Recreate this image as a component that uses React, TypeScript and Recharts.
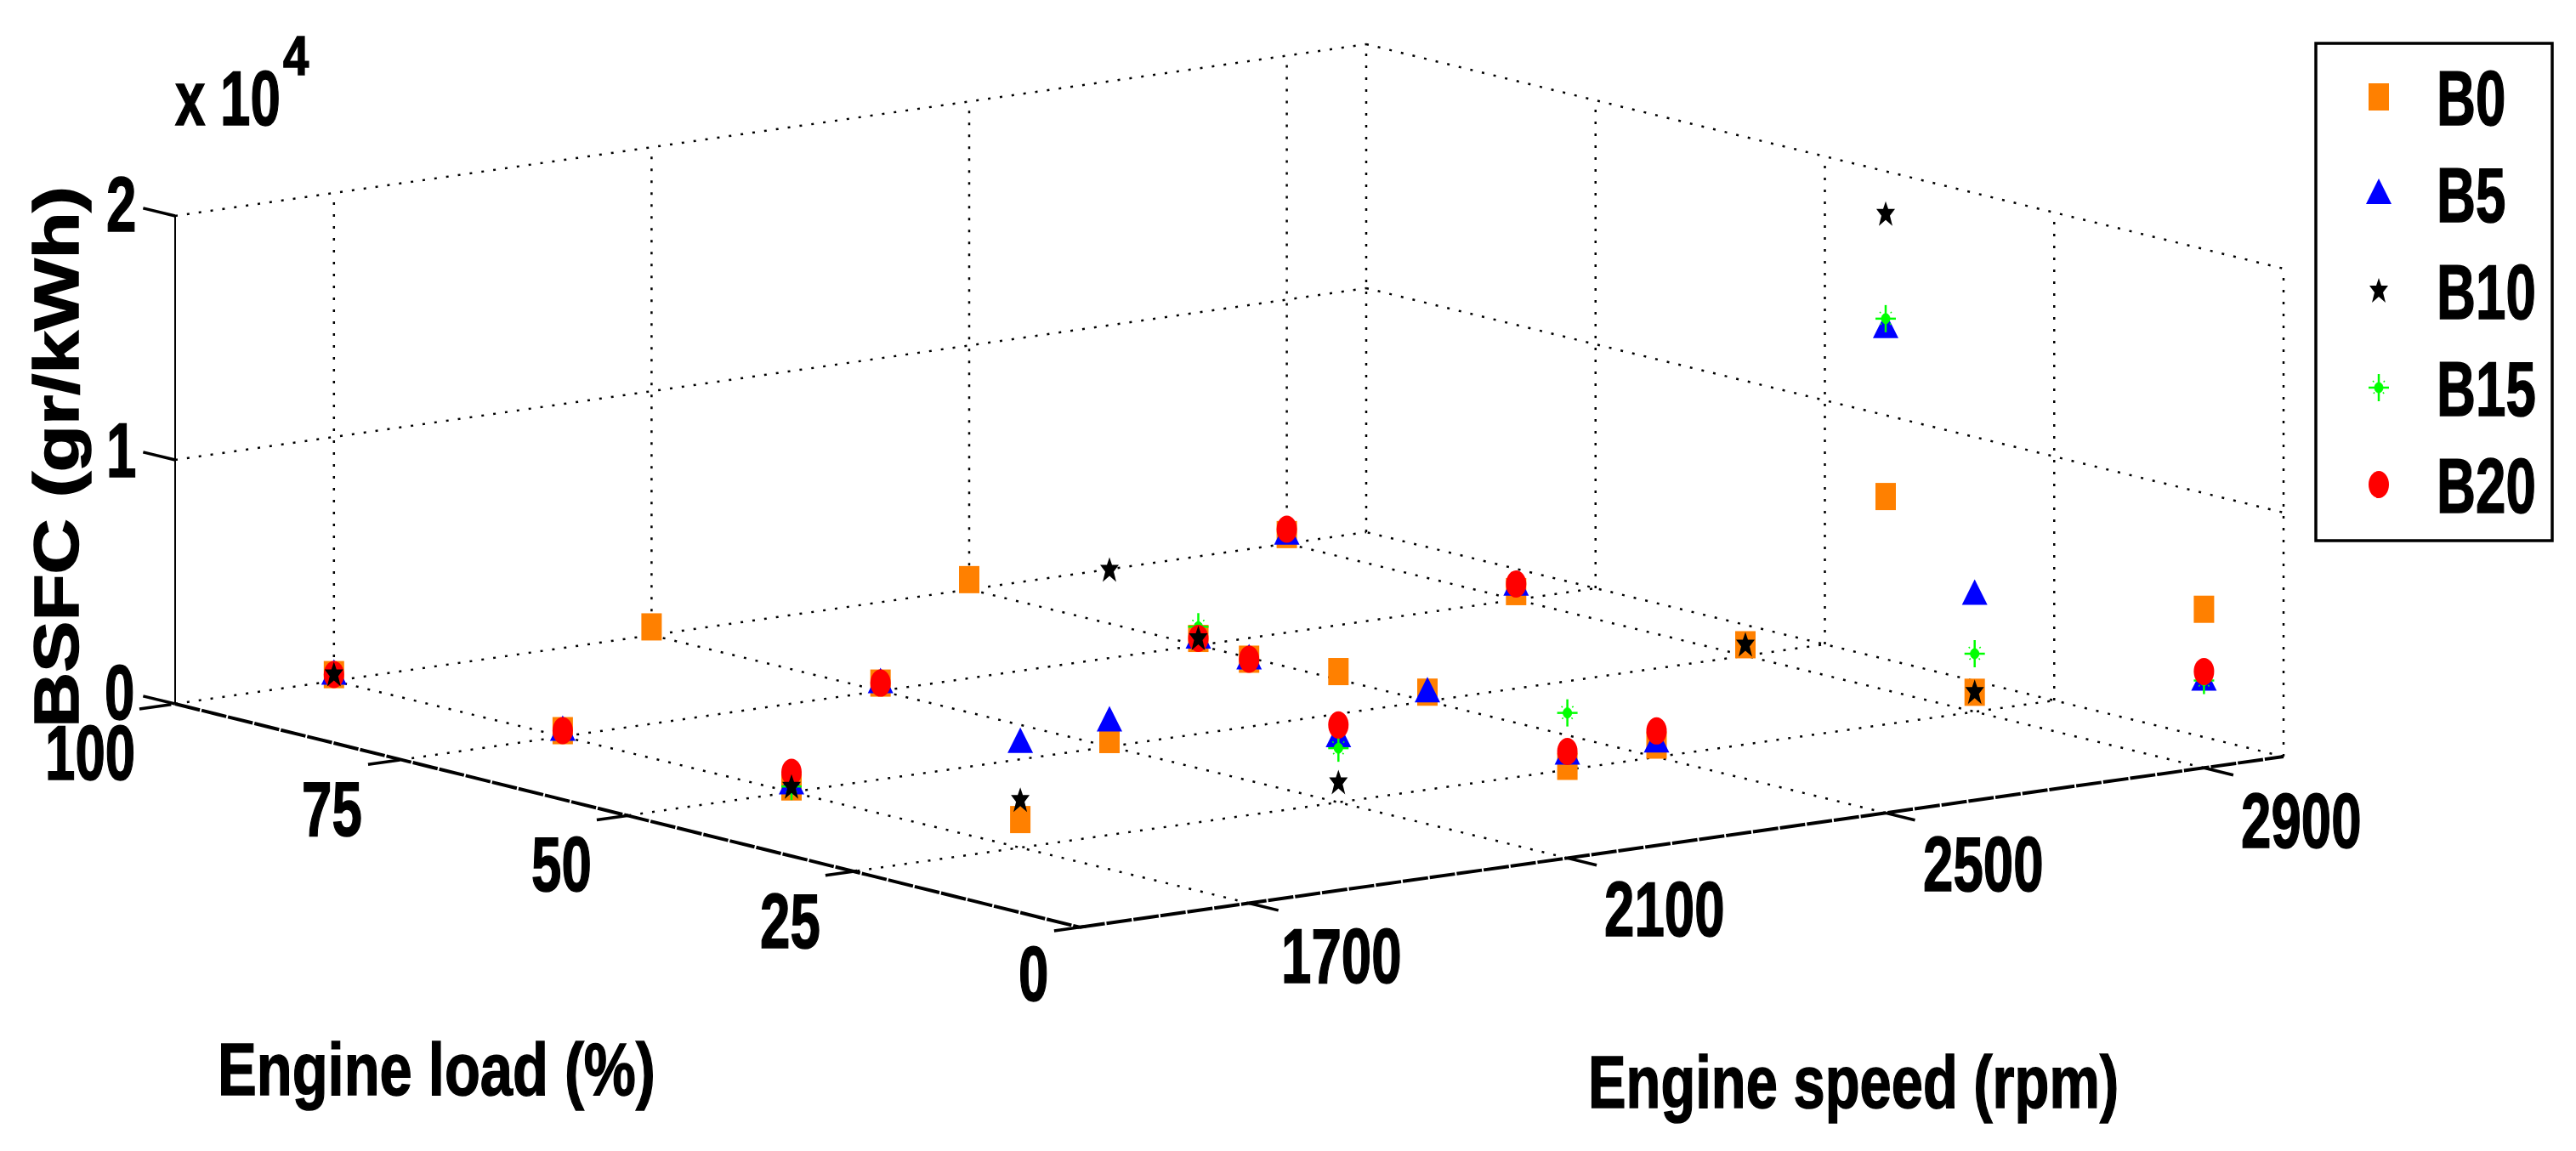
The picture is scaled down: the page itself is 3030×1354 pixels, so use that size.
import { FC } from 'react';
import { ReferenceLine, Scatter, ScatterChart, XAxis, YAxis } from 'recharts';

const speeds = [1700, 2100, 2500, 2900];
const loads = [100, 75, 50, 25, 0];
const bsfcTicks = [0, 10000, 20000];

// BSFC in gr/kWh, one row per speed, one column per load
// null where the marker cannot be seen under the others
const b0 = [
  [260, 240, 210, 1150, 10000],
  [340, 320, 290, 5360, 3760],
  [400, 280, 370, 490, 12970],
  [370, 330, 450, 800, 6500],
];
const b5 = [
  [260, 240, 320, 4300, 10000],
  [null, 320, 1040, 2680, 4250],
  [null, 280, 370, 600, 19880],
  [370, 580, null, 4800, 3580],
];
const b10 = [
  [260, null, 210, 1950, null],
  [null, null, 7240, 810, null],
  [null, 280, null, null, 24550],
  [null, null, 450, 800, null],
];
const b15 = [
  [null, null, 230, null, null],
  [null, null, null, 2220, 5950],
  [null, 760, null, null, 20260],
  [null, null, null, 2380, 3580],
];
const b20 = [
  [265, 240, 810, null, 10000],
  [null, 320, null, 3170, 4370],
  [null, 280, null, 1070, null],
  [590, 640, null, null, 3950],
];

const WIDTH = 3030;
const HEIGHT = 1354;

// the view of the box: floor corners in picture coordinates
const project = (speed: number, load: number, bsfc = 0) => {
  const u = (speed - 1500) / 1500;
  const v = load / 100;
  const fx = 1282 + 1404 * u;
  const fy = 1089 - 199 * u;
  const bx = 206 + 1401 * u;
  const by = 828 - 202 * u;
  return {
    x: fx + (bx - fx) * v,
    y: fy + (by - fy) * v - (bsfc / 10000) * 287,
  };
};

const toPoints = (rows: (number | null)[][]) =>
  rows.flatMap((row, i) =>
    row.flatMap((bsfc, j) =>
      bsfc === null ? [] : [project(speeds[i], loads[j], bsfc)],
    ),
  );

const Square: FC<any> = ({ cx, cy }) => (
  <rect x={cx - 12} y={cy - 16} width={24} height={32} fill="#ff8000" />
);
const Triangle: FC<any> = ({ cx, cy }) => (
  <polygon
    points={`${cx},${cy - 18} ${cx + 15},${cy + 12} ${cx - 15},${cy + 12}`}
    fill="#0000ff"
  />
);
const Star: FC<any> = ({ cx, cy }) => (
  <polygon
    points={`${cx},${cy - 15} ${cx + 3},${cy - 6} ${cx + 11},${cy - 6} ${cx + 5},${cy + 2} ${cx + 8},${cy + 14} ${cx},${cy + 7} ${cx - 8},${cy + 14} ${cx - 5},${cy + 2} ${cx - 11},${cy - 6} ${cx - 3},${cy - 6}`}
    fill="#000"
  />
);
const Burst: FC<any> = ({ cx, cy }) => (
  <g stroke="#00ff00" fill="#00ff00">
    <line x1={cx} y1={cy - 16} x2={cx} y2={cy + 16} strokeWidth={2.5} />
    <line x1={cx - 12} y1={cy} x2={cx + 12} y2={cy} strokeWidth={2.5} />
    <line x1={cx - 7} y1={cy - 8} x2={cx + 7} y2={cy + 8} strokeWidth={1.5} strokeDasharray="2 4" />
    <line x1={cx + 7} y1={cy - 8} x2={cx - 7} y2={cy + 8} strokeWidth={1.5} strokeDasharray="2 4" />
    <ellipse cx={cx} cy={cy} rx={5} ry={6} />
  </g>
);
const Dot: FC<any> = ({ cx, cy }) => (
  <ellipse cx={cx} cy={cy} rx={12} ry={16} fill="#ff0000" />
);

const series = [
  { name: 'B0', rows: b0, shape: Square },
  { name: 'B5', rows: b5, shape: Triangle },
  { name: 'B10', rows: b10, shape: Star },
  { name: 'B15', rows: b15, shape: Burst },
  { name: 'B20', rows: b20, shape: Dot },
];
const drawOrder = ['B0', 'B5', 'B15', 'B20', 'B10'];

const Label: FC<any> = ({ x, y, sx = 0.7, size = 91, rotate = 0, children }) => (
  <text
    transform={`translate(${x} ${y}) rotate(${rotate}) scale(${sx} 1)`}
    fontFamily="Liberation Sans"
    fontWeight="bold"
    fontSize={size}
    fill="#000"
    stroke="#000"
    strokeWidth={1.5}
  >
    {children}
  </text>
);

const dotted = (a: any, b: any, key: string) => (
  <ReferenceLine
    key={key}
    segment={[a, b]}
    stroke="#000"
    strokeWidth={2.5}
    strokeDasharray="3 11"
    ifOverflow="visible"
  />
);
const solid = (a: any, b: any, key: string, width = 3.5, dash?: string) => (
  <ReferenceLine
    key={key}
    segment={[a, b]}
    stroke="#000"
    strokeWidth={width}
    strokeDasharray={dash}
    ifOverflow="visible"
  />
);

const App: FC = () => (
  <div style={{ position: 'fixed', left: 0, top: 0, background: '#fff' }}>
    <ScatterChart
      width={WIDTH}
      height={HEIGHT}
      margin={{ top: 0, right: 0, bottom: 0, left: 0 }}
    >
      <XAxis type="number" dataKey="x" domain={[0, WIDTH]} hide />
      <YAxis type="number" dataKey="y" domain={[0, HEIGHT]} reversed hide />

      {/* floor grid */}
      {speeds.map((s) => dotted(project(s, 0), project(s, 100), `fs${s}`))}
      {loads.map((l) =>
        l > 0
          ? dotted(project(l === 100 ? 1500 : 1495, l), project(3000, l), `fl${l}`)
          : null,
      )}
      {dotted(project(3000, 0), project(3000, 100), 'fr')}

      {/* walls */}
      {speeds.map((s) =>
        dotted(project(s, 100), project(s, 100, 20000), `ws${s}`),
      )}
      {loads
        .filter((l) => l < 100)
        .map((l) => dotted(project(3000, l), project(3000, l, 20000), `wl${l}`))}
      {dotted(project(3000, 100), project(3000, 100, 20000), 'wb')}
      {bsfcTicks
        .filter((z) => z > 0)
        .flatMap((z) => [
          dotted(project(1500, 100, z), project(3000, 100, z), `wa${z}`),
          dotted(project(3000, 100, z), project(3000, 0, z), `wc${z}`),
        ])}

      {/* axes */}
      {solid(project(1500, 100), project(1500, 100, 20000), 'zaxis', 2)}
      {solid(project(1500, 100), project(1487, 0), 'laxis', 4, '30 2')}
      {solid(project(1487, 0), project(3000, 0), 'saxis', 4, '30 2')}
      {bsfcTicks.map((z) =>
        solid(project(1500, 100, z), project(1500, 103.5, z), `zt${z}`),
      )}
      {loads.map((l) =>
        solid(project(1495, l), project(1455, l), `lt${l}`),
      )}
      {speeds.map((s) => solid(project(s, 0), project(s, -3.2), `st${s}`))}

      {drawOrder.map((name) => {
        const s = series.find((item) => item.name === name)!;
        const Shape = s.shape;
        return (
          <Scatter
            key={s.name}
            name={s.name}
            data={toPoints(s.rows)}
            isAnimationActive={false}
            shape={(p: any) => <Shape cx={p.cx} cy={p.cy} />}
          />
        );
      })}

      {/* tick labels */}
      <Label x={125} y={272}>2</Label>
      <Label x={125} y={561}>1</Label>
      <Label x={123} y={846}>0</Label>
      <Label x={53} y={917}>100</Label>
      <Label x={355} y={983}>75</Label>
      <Label x={625} y={1048}>50</Label>
      <Label x={894} y={1115}>25</Label>
      <Label x={1198} y={1177}>0</Label>
      <Label x={1507} y={1156}>1700</Label>
      <Label x={1887} y={1101}>2100</Label>
      <Label x={2262} y={1048}>2500</Label>
      <Label x={2636} y={997}>2900</Label>

      <Label x={206} y={147}>x 10</Label>
      <Label x={333} y={88} size={64} sx={0.85}>4</Label>

      <Label x={256} y={1288} size={88} sx={0.78}>Engine load (%)</Label>
      <Label x={1868} y={1303} size={88} sx={0.76}>Engine speed (rpm)</Label>
      <Label x={92} y={856} size={74} sx={1.22} rotate={-90}>BSFC (gr/kWh)</Label>

      {/* legend */}
      <rect x={2724} y={51} width={278} height={585} fill="#fff" stroke="#000" strokeWidth={3.5} />
      {series.map((s, i) => {
        const Shape = s.shape;
        return (
          <g key={s.name}>
            <Shape cx={2798} cy={114 + i * 114} />
            <Label x={2866} y={147 + i * 114}>{s.name}</Label>
          </g>
        );
      })}
    </ScatterChart>
  </div>
);

export default App;
